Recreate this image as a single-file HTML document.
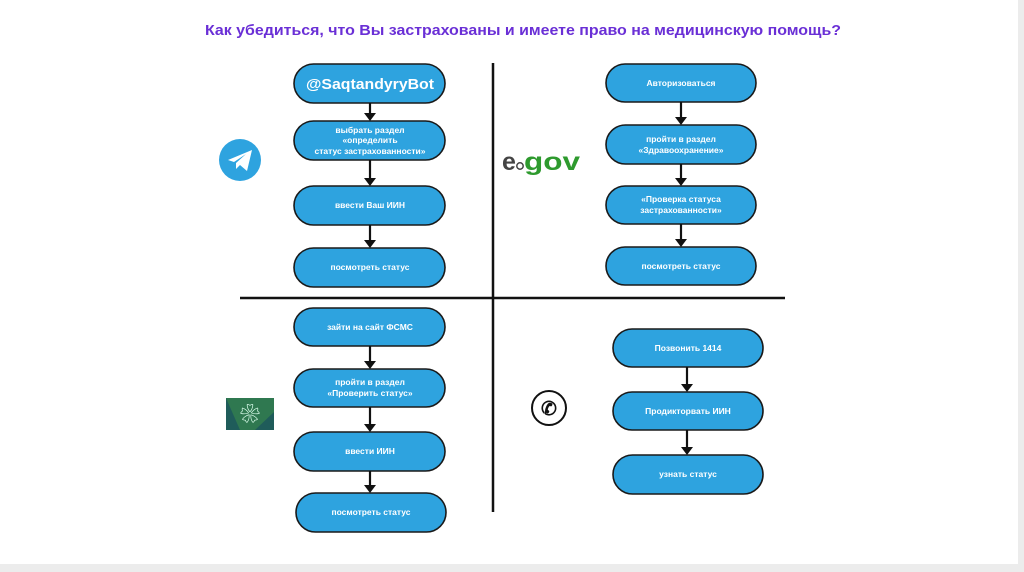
<!DOCTYPE html>
<html><head><meta charset="utf-8"><style>
html,body{margin:0;padding:0;background:#fff;}
svg{display:block;}
text{font-family:"Liberation Sans","Noto Sans CJK SC",sans-serif;font-weight:bold;}
.b{fill:#2ea3df;stroke:#1a1a1a;stroke-width:1.6;}
.t{fill:#fff;font-size:8.5px;text-anchor:middle;}
.a{stroke:#111;stroke-width:2.2;}
.h{fill:#111;}
</style></head><body>
<svg width="1024" height="572" viewBox="0 0 1024 572" xmlns="http://www.w3.org/2000/svg">
<rect x="0" y="0" width="1024" height="572" fill="#fff"/>
<rect x="0" y="564" width="1024" height="8" fill="#ececec"/>
<rect x="1018" y="0" width="6" height="572" fill="#ececec"/>
<text x="523" y="35" font-size="15" fill="#6a2fd6" text-anchor="middle" textLength="636" lengthAdjust="spacingAndGlyphs">Как убедиться, что Вы застрахованы и имеете право на медицинскую помощь?</text>
<line x1="493" y1="63" x2="493" y2="512" stroke="#111" stroke-width="2.5"/>
<line x1="240" y1="298" x2="785" y2="298" stroke="#111" stroke-width="2.5"/>

<!-- TL -->
<rect class="b" x="294" y="64" width="151" height="39" rx="19.5"/>
<text class="t" x="370" y="89" style="font-size:14.5px" textLength="128" lengthAdjust="spacingAndGlyphs">@SaqtandyryBot</text>
<rect class="b" x="294" y="121" width="151" height="39" rx="19.5"/>
<text class="t" x="370" y="133">выбрать раздел</text>
<text class="t" x="370" y="143">«определить</text>
<text class="t" x="370" y="154">статус застрахованности»</text>
<rect class="b" x="294" y="186" width="151" height="39" rx="19.5"/>
<text class="t" x="370" y="208">ввести Ваш ИИН</text>
<rect class="b" x="294" y="248" width="151" height="39" rx="19.5"/>
<text class="t" x="370" y="270">посмотреть статус</text>
<line class="a" x1="370" y1="103" x2="370" y2="114"/><path class="h" d="M364,113 L376,113 L370,121 Z"/>
<line class="a" x1="370" y1="160" x2="370" y2="179"/><path class="h" d="M364,178 L376,178 L370,186 Z"/>
<line class="a" x1="370" y1="225" x2="370" y2="241"/><path class="h" d="M364,240 L376,240 L370,248 Z"/>

<!-- TR -->
<rect class="b" x="606" y="64" width="150" height="38" rx="19"/>
<text class="t" x="681" y="86">Авторизоваться</text>
<rect class="b" x="606" y="125" width="150" height="39" rx="19.5"/>
<text class="t" x="681" y="142">пройти в раздел</text>
<text class="t" x="681" y="153">«Здравоохранение»</text>
<rect class="b" x="606" y="186" width="150" height="38" rx="19"/>
<text class="t" x="681" y="202">«Проверка статуса</text>
<text class="t" x="681" y="213">застрахованности»</text>
<rect class="b" x="606" y="247" width="150" height="38" rx="19"/>
<text class="t" x="681" y="269">посмотреть статус</text>
<line class="a" x1="681" y1="102" x2="681" y2="118"/><path class="h" d="M675,117 L687,117 L681,125 Z"/>
<line class="a" x1="681" y1="164" x2="681" y2="179"/><path class="h" d="M675,178 L687,178 L681,186 Z"/>
<line class="a" x1="681" y1="224" x2="681" y2="240"/><path class="h" d="M675,239 L687,239 L681,247 Z"/>

<!-- BL -->
<rect class="b" x="294" y="308" width="151" height="38" rx="19"/>
<text class="t" x="370" y="330">зайти на сайт ФСМС</text>
<rect class="b" x="294" y="369" width="151" height="38" rx="19"/>
<text class="t" x="370" y="385">пройти в раздел</text>
<text class="t" x="370" y="396">«Проверить статус»</text>
<rect class="b" x="294" y="432" width="151" height="39" rx="19.5"/>
<text class="t" x="370" y="454">ввести ИИН</text>
<rect class="b" x="296" y="493" width="150" height="39" rx="19.5"/>
<text class="t" x="371" y="515">посмотреть статус</text>
<line class="a" x1="370" y1="346" x2="370" y2="362"/><path class="h" d="M364,361 L376,361 L370,369 Z"/>
<line class="a" x1="370" y1="407" x2="370" y2="425"/><path class="h" d="M364,424 L376,424 L370,432 Z"/>
<line class="a" x1="370" y1="471" x2="370" y2="486"/><path class="h" d="M364,485 L376,485 L370,493 Z"/>

<!-- BR -->
<rect class="b" x="613" y="329" width="150" height="38" rx="19"/>
<text class="t" x="688" y="351">Позвонить 1414</text>
<rect class="b" x="613" y="392" width="150" height="38" rx="19"/>
<text class="t" x="688" y="414">Продикторвать ИИН</text>
<rect class="b" x="613" y="455" width="150" height="39" rx="19.5"/>
<text class="t" x="688" y="477">узнать статус</text>
<line class="a" x1="687" y1="367" x2="687" y2="385"/><path class="h" d="M681,384 L693,384 L687,392 Z"/>
<line class="a" x1="687" y1="430" x2="687" y2="448"/><path class="h" d="M681,447 L693,447 L687,455 Z"/>

<!-- icons -->
<circle cx="240" cy="160" r="21" fill="#2ea3df"/>
<path d="M228,160 L252,150 L247,171 L240,165 L236,169 L236,163 L246,154 L234,162 Z" fill="#fff"/>
<text x="502" y="170" font-size="25" fill="#444">e</text>
<circle cx="520" cy="166" r="3.2" fill="none" stroke="#444" stroke-width="1.5"/>
<text x="524" y="170" font-size="25" fill="#2e9a2e" textLength="56" lengthAdjust="spacingAndGlyphs">gov</text>
<rect x="226" y="398" width="48" height="32" fill="#1f5c5a"/>
<path d="M226,398 L274,398 L274,412 L255,430 L240,430 Z" fill="#3a8a4a" opacity="0.6"/>
<text x="250" y="421" font-size="20" fill="#dfe" text-anchor="middle" font-weight="normal">❀</text>
<circle cx="549" cy="408" r="17" fill="#fff" stroke="#111" stroke-width="2"/>
<text x="549" y="415" font-size="19" fill="#111" text-anchor="middle" font-weight="normal">✆</text>
</svg>
</body></html>
